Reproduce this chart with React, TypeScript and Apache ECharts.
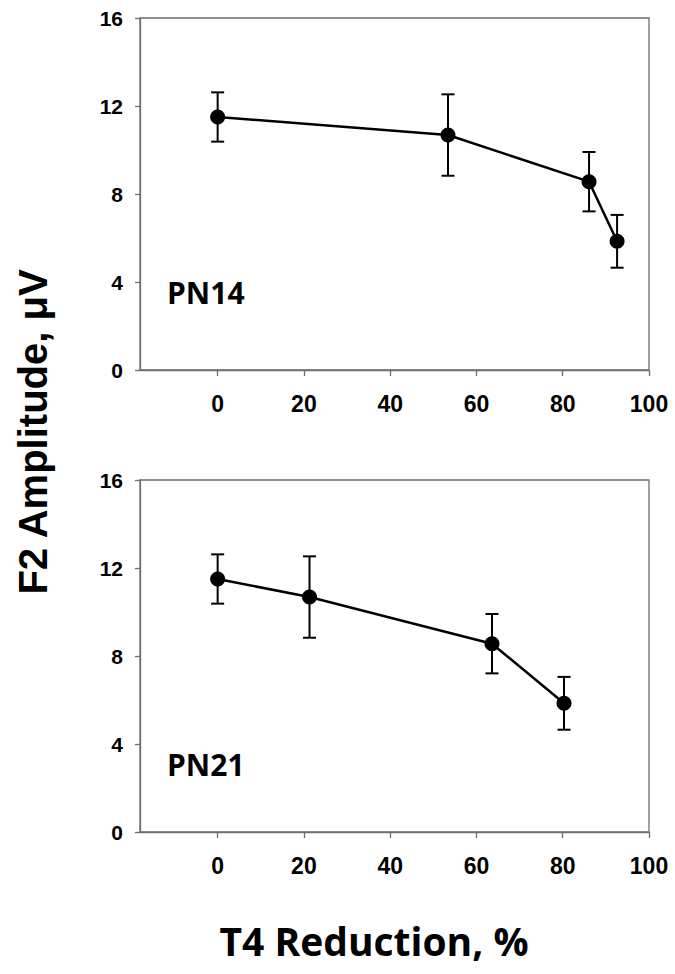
import React, { useEffect, useRef } from "react";
import * as echarts from "echarts";

const xTicks = [0, 20, 40, 60, 80, 100];
const yTicks = [0, 4, 8, 12, 16];
const panelLabels = ["PN14", "PN21"];
const xPN14 = [0, 53.4, 86.1, 92.6];
const xPN21 = [0, 21.3, 63.6, 80.3];
const meanAmp = [11.5, 10.68, 8.56, 5.85];
const errAmp = [1.12, 1.85, 1.35, 1.2];
const yTitle = "F2 Amplitude, \u03bcV";
const xTitle = "T4 Reduction, %";

const AXIS_GRAY = "#6e6e6e";

export default function App() {
  const ref = useRef<HTMLDivElement>(null);
  useEffect(() => {
    document.body.style.margin = "0";
    if (!ref.current) return;
    const chart = echarts.init(ref.current, undefined, { renderer: "svg" });
    const xs = [xPN14, xPN21];
    const grids = [
      { left: 140, top: 18, width: 509, height: 352 },
      { left: 140, top: 480, width: 509, height: 352 },
    ].map((g) => ({ ...g, show: true, borderColor: AXIS_GRAY, borderWidth: 1.3, backgroundColor: "transparent" }));

    const xAxes = grids.map((_, i) => ({
      type: "value",
      gridIndex: i,
      min: -18,
      max: 100,
      axisLine: { show: true, onZero: false, lineStyle: { color: AXIS_GRAY, width: 1.3 } },
      axisTick: { show: true, length: 6, customValues: xTicks, lineStyle: { color: AXIS_GRAY, width: 1.3 } },
      axisLabel: {
        customValues: xTicks,
        margin: 22,
        color: "#000",
        fontFamily: "'Liberation Sans', Arial, sans-serif",
        fontWeight: "bold",
        fontSize: 23,
      },
      splitLine: { show: false },
    }));
    const yAxes = grids.map((_, i) => ({
      type: "value",
      gridIndex: i,
      min: yTicks[0],
      max: yTicks[yTicks.length - 1],
      interval: 4,
      axisLine: { show: true, onZero: false, lineStyle: { color: AXIS_GRAY, width: 1.3 } },
      axisTick: { show: true, length: 5, lineStyle: { color: AXIS_GRAY, width: 1.3 } },
      axisLabel: {
        margin: 17,
        color: "#000",
        fontFamily: "'Liberation Sans', Arial, sans-serif",
        fontWeight: "bold",
        fontSize: 21,
      },
      splitLine: { show: false },
    }));

    const series: any[] = [];
    xs.forEach((xv, i) => {
      series.push({
        type: "custom",
        xAxisIndex: i,
        yAxisIndex: i,
        data: xv.map((x, k) => [x, meanAmp[k] - errAmp[k], meanAmp[k] + errAmp[k]]),
        renderItem: (params: any, api: any) => {
          const x = api.value(0);
          const lo = api.coord([x, api.value(1)]);
          const hi = api.coord([x, api.value(2)]);
          const hw = 6.5;
          const st = { stroke: "#000", lineWidth: 2 };
          return {
            type: "group",
            children: [
              { type: "line", shape: { x1: lo[0], y1: lo[1], x2: hi[0], y2: hi[1] }, style: st },
              { type: "line", shape: { x1: lo[0] - hw, y1: lo[1], x2: lo[0] + hw, y2: lo[1] }, style: st },
              { type: "line", shape: { x1: hi[0] - hw, y1: hi[1], x2: hi[0] + hw, y2: hi[1] }, style: st },
            ],
          };
        },
        z: 2,
      });
      series.push({
        type: "line",
        xAxisIndex: i,
        yAxisIndex: i,
        data: xv.map((x, k) => [x, meanAmp[k]]),
        symbol: "circle",
        symbolSize: 15,
        itemStyle: { color: "#000" },
        lineStyle: { color: "#000", width: 2.5 },
        z: 3,
      });
    });

    chart.setOption({
      animation: false,
      grid: grids,
      xAxis: xAxes,
      yAxis: yAxes,
      series,
      graphic: [
        {
          type: "text",
          left: 167,
          top: 277,
          style: { text: panelLabels[0], font: "bold 30px 'Open Sans', sans-serif", fill: "#000" },
        },
        {
          type: "text",
          left: 167,
          top: 749,
          style: { text: panelLabels[1], font: "bold 30px 'Open Sans', sans-serif", fill: "#000" },
        },
        {
          type: "text",
          x: 33,
          y: 432,
          rotation: Math.PI / 2,
          style: {
            text: yTitle,
            font: "bold 40px 'Liberation Sans', Arial, sans-serif",
            fill: "#000",
            align: "center",
            verticalAlign: "middle",
          },
        },
        {
          type: "text",
          x: 374,
          y: 940,
          style: {
            text: xTitle,
            font: "bold 39px 'Open Sans', sans-serif",
            fill: "#000",
            align: "center",
            verticalAlign: "middle",
          },
        },
      ],
    });
    return () => chart.dispose();
  }, []);
  return <div ref={ref} style={{ width: 675, height: 974 }} />;
}
